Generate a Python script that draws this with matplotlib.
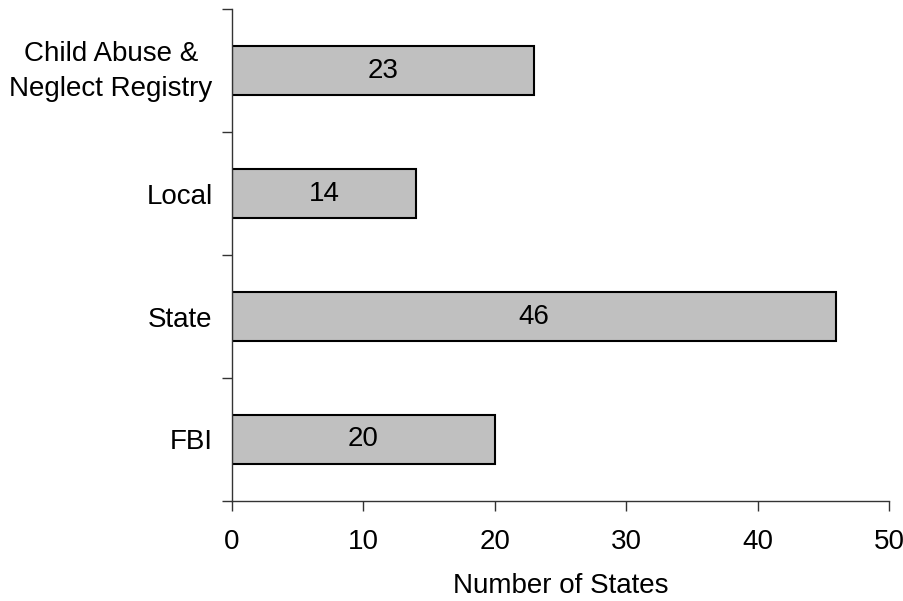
import matplotlib.pyplot as plt
import matplotlib.transforms as mtransforms
import numpy as np

plt.rcParams['font.family'] = ['Liberation Sans', 'DejaVu Sans']

categories = ["FBI", "State", "Local", "Child Abuse &\nNeglect Registry"]
states = [20, 46, 14, 23]
xticks = [0, 10, 20, 30, 40, 50]

fig = plt.figure(figsize=(9.04, 6.01), dpi=100)
ax = fig.add_axes([0.2566, 0.1664, 0.7268, 0.8186])

pos = np.arange(len(categories))
bars = ax.barh(pos, states, height=0.4, color="#c0c0c0", edgecolor="black", linewidth=1.5)

for p, v in zip(pos, states):
    ax.text(v / 2, p, str(v), ha="center", va="center", fontsize=20)

ax.set_xlim(0, 50)
ax.set_ylim(-0.5, len(categories) - 0.5)
ax.set_xticks(xticks)
ax.set_xticklabels([str(t) for t in xticks], fontsize=20)

# category ticks sit between bars, labels at bar centers
ax.set_yticks(np.arange(-0.5, len(categories), 1.0))
ax.set_yticklabels([])
ax.set_yticks(pos, minor=True)
ax.set_yticklabels(categories, minor=True, fontsize=20, multialignment="center", linespacing=1.45)
ax.tick_params(axis="y", which="minor", length=0, pad=14)
ax.tick_params(axis="y", which="major", length=7, width=1, color="#333333", direction="out")
ax.tick_params(axis="x", length=7, width=1, color="#333333", direction="out", pad=13)

# nudge the two-line label up a little
shift = mtransforms.ScaledTranslation(0, 5 / 72, fig.dpi_scale_trans)
lbl = ax.get_yticklabels(minor=True)[-1]
lbl.set_transform(lbl.get_transform() + shift)

for s in ["top", "right"]:
    ax.spines[s].set_visible(False)
for s in ["left", "bottom"]:
    ax.spines[s].set_color("#333333")
    ax.spines[s].set_linewidth(1)

ax.set_xlabel("Number of States", fontsize=20, labelpad=13)

fig.savefig("out.png", dpi=100)
